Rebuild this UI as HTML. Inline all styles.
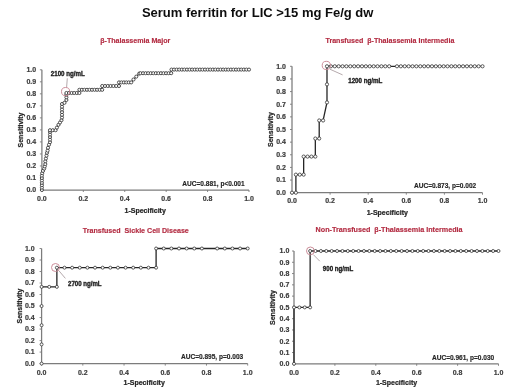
<!DOCTYPE html>
<html><head><meta charset="utf-8"><style>
html,body{margin:0;padding:0;background:#fff;}
body{width:520px;height:390px;overflow:hidden;}
svg{display:block;will-change:transform;}
text{font-family:"Liberation Sans", sans-serif;font-weight:bold;}
.tl{font-size:7px;fill:#3c3c3c;stroke:#3c3c3c;stroke-width:0.18px;}
.at{font-size:7px;fill:#262626;stroke:#262626;stroke-width:0.22px;}
.st{font-size:7px;fill:#b32c42;stroke:#b32c42;stroke-width:0.15px;}
.auc{font-size:6.55px;fill:#262626;stroke:#262626;stroke-width:0.15px;}
.lab{font-size:7.2px;fill:#1f1f1f;stroke:#1f1f1f;stroke-width:0.38px;}
.ti{font-size:13px;fill:#0d0d0d;}
</style></head><body>
<svg width="520" height="390" viewBox="0 0 520 390">
<rect width="520" height="390" fill="#fff"/>
<g>
<text x="141.9" y="16.9" class="ti">Serum ferritin for LIC &gt;15 mg Fe/g dw</text>
<path d="M41.9 69.8V190H249" fill="none" stroke="#7c7c7c" stroke-width="1.25"/>
<path d="M39.9 190H41.9M39.9 177.98H41.9M39.9 165.96H41.9M39.9 153.94H41.9M39.9 141.92H41.9M39.9 129.9H41.9M39.9 117.88H41.9M39.9 105.86H41.9M39.9 93.84H41.9M39.9 81.82H41.9M39.9 69.8H41.9M41.9 190V192M83.32 190V192M124.74 190V192M166.16 190V192M207.58 190V192M249 190V192" stroke="#7c7c7c" stroke-width="0.9"/>
<text x="36.2" y="192.3" text-anchor="end" class="tl">0.0</text>
<text x="36.2" y="180.28" text-anchor="end" class="tl">0.1</text>
<text x="36.2" y="168.26" text-anchor="end" class="tl">0.2</text>
<text x="36.2" y="156.24" text-anchor="end" class="tl">0.3</text>
<text x="36.2" y="144.22" text-anchor="end" class="tl">0.4</text>
<text x="36.2" y="132.2" text-anchor="end" class="tl">0.5</text>
<text x="36.2" y="120.18" text-anchor="end" class="tl">0.6</text>
<text x="36.2" y="108.16" text-anchor="end" class="tl">0.7</text>
<text x="36.2" y="96.14" text-anchor="end" class="tl">0.8</text>
<text x="36.2" y="84.12" text-anchor="end" class="tl">0.9</text>
<text x="36.2" y="72.1" text-anchor="end" class="tl">1.0</text>
<text x="41.9" y="201.2" text-anchor="middle" class="tl">0.0</text>
<text x="83.32" y="201.2" text-anchor="middle" class="tl">0.2</text>
<text x="124.74" y="201.2" text-anchor="middle" class="tl">0.4</text>
<text x="166.16" y="201.2" text-anchor="middle" class="tl">0.6</text>
<text x="207.58" y="201.2" text-anchor="middle" class="tl">0.8</text>
<text x="249" y="201.2" text-anchor="middle" class="tl">1.0</text>
<text x="145.2" y="212.6" text-anchor="middle" class="at">1-Specificity</text>
<text transform="translate(22.7 130) rotate(-90)" text-anchor="middle" class="at">Sensitivity</text>
<text x="135.3" y="42.8" text-anchor="middle" class="st" style="font-size:7.1px">β-Thalassemia Major</text>
<text x="244.6" y="186.2" text-anchor="end" class="auc">AUC=0.881, p&lt;0.001</text>
<path d="M41.9 190 L41.9 187.6 L41.9 185.2 L41.9 182.8 L41.9 180.4 L41.9 178 L41.9 175.6 L42.2 173.2 L43 170.9 L44.2 168.6 L44.8 166.4 L45.3 164.1 L45.3 161.3 L45.9 158.5 L46.5 155.6 L47 152.8 L47.6 150.6 L48 147.8 L49 144.7 L50 142.2 L50 139.6 L50 137 L50 134.5 L50 131.9 L50 130.2 L52.8 130.2 L55.6 130.2 L56.9 127.6 L58.5 124.8 L60 122.5 L61.5 120.2 L62 117.5 L62 114.8 L62 112.1 L62 109.4 L62 106.7 L62 104 L64.5 102.8 L66.4 100 L66.4 97.3 L66.4 94.6 L66.4 93 L79.4 93 L79.4 89.8 L102.2 89.8 L102.2 86 L119 86 L119 82.4 L131.2 82.4 L133.5 79.5 L136.3 76.6 L139.2 73.6 L140.5 73.2 L171.2 73.2 L171.2 69.6 L249 69.6" fill="none" stroke="#262626" stroke-width="1.1" stroke-linejoin="round"/>
<g fill="#fff" stroke="#333" stroke-width="0.85"><circle cx="41.9" cy="190" r="1.55"/><circle cx="41.9" cy="187.6" r="1.55"/><circle cx="41.9" cy="185.2" r="1.55"/><circle cx="41.9" cy="182.8" r="1.55"/><circle cx="41.9" cy="180.4" r="1.55"/><circle cx="41.9" cy="178" r="1.55"/><circle cx="41.9" cy="175.6" r="1.55"/><circle cx="42.2" cy="173.2" r="1.55"/><circle cx="43" cy="170.9" r="1.55"/><circle cx="44.2" cy="168.6" r="1.55"/><circle cx="44.8" cy="166.4" r="1.55"/><circle cx="45.3" cy="164.1" r="1.55"/><circle cx="45.3" cy="161.3" r="1.55"/><circle cx="45.9" cy="158.5" r="1.55"/><circle cx="46.5" cy="155.6" r="1.55"/><circle cx="47" cy="152.8" r="1.55"/><circle cx="47.6" cy="150.6" r="1.55"/><circle cx="48" cy="147.8" r="1.55"/><circle cx="49" cy="144.7" r="1.55"/><circle cx="50" cy="142.2" r="1.55"/><circle cx="50" cy="139.6" r="1.55"/><circle cx="50" cy="137" r="1.55"/><circle cx="50" cy="134.5" r="1.55"/><circle cx="50" cy="131.9" r="1.55"/><circle cx="50" cy="130.2" r="1.55"/><circle cx="52.8" cy="130.2" r="1.55"/><circle cx="55.6" cy="130.2" r="1.55"/><circle cx="56.9" cy="127.6" r="1.55"/><circle cx="58.5" cy="124.8" r="1.55"/><circle cx="60" cy="122.5" r="1.55"/><circle cx="61.5" cy="120.2" r="1.55"/><circle cx="62" cy="117.5" r="1.55"/><circle cx="62" cy="114.8" r="1.55"/><circle cx="62" cy="112.1" r="1.55"/><circle cx="62" cy="109.4" r="1.55"/><circle cx="62" cy="106.7" r="1.55"/><circle cx="62" cy="104" r="1.55"/><circle cx="64.5" cy="102.8" r="1.55"/><circle cx="66.4" cy="100" r="1.55"/><circle cx="66.4" cy="97.3" r="1.55"/><circle cx="66.4" cy="94.6" r="1.55"/><circle cx="66.4" cy="93" r="1.55"/><circle cx="69" cy="93" r="1.55"/><circle cx="71.6" cy="93" r="1.55"/><circle cx="74.2" cy="93" r="1.55"/><circle cx="76.8" cy="93" r="1.55"/><circle cx="79.4" cy="93" r="1.55"/><circle cx="79.4" cy="89.8" r="1.55"/><circle cx="81.93" cy="89.8" r="1.55"/><circle cx="84.47" cy="89.8" r="1.55"/><circle cx="87" cy="89.8" r="1.55"/><circle cx="89.53" cy="89.8" r="1.55"/><circle cx="92.07" cy="89.8" r="1.55"/><circle cx="94.6" cy="89.8" r="1.55"/><circle cx="97.13" cy="89.8" r="1.55"/><circle cx="99.67" cy="89.8" r="1.55"/><circle cx="102.2" cy="89.8" r="1.55"/><circle cx="102.2" cy="86" r="1.55"/><circle cx="105" cy="86" r="1.55"/><circle cx="107.8" cy="86" r="1.55"/><circle cx="110.6" cy="86" r="1.55"/><circle cx="113.4" cy="86" r="1.55"/><circle cx="116.2" cy="86" r="1.55"/><circle cx="119" cy="86" r="1.55"/><circle cx="119" cy="82.4" r="1.55"/><circle cx="121.44" cy="82.4" r="1.55"/><circle cx="123.88" cy="82.4" r="1.55"/><circle cx="126.32" cy="82.4" r="1.55"/><circle cx="128.76" cy="82.4" r="1.55"/><circle cx="131.2" cy="82.4" r="1.55"/><circle cx="133.5" cy="79.5" r="1.55"/><circle cx="136.3" cy="76.6" r="1.55"/><circle cx="139.2" cy="73.6" r="1.55"/><circle cx="140.5" cy="73.2" r="1.55"/><circle cx="143.06" cy="73.2" r="1.55"/><circle cx="145.62" cy="73.2" r="1.55"/><circle cx="148.18" cy="73.2" r="1.55"/><circle cx="150.73" cy="73.2" r="1.55"/><circle cx="153.29" cy="73.2" r="1.55"/><circle cx="155.85" cy="73.2" r="1.55"/><circle cx="158.41" cy="73.2" r="1.55"/><circle cx="160.97" cy="73.2" r="1.55"/><circle cx="163.52" cy="73.2" r="1.55"/><circle cx="166.08" cy="73.2" r="1.55"/><circle cx="168.64" cy="73.2" r="1.55"/><circle cx="171.2" cy="73.2" r="1.55"/><circle cx="171.5" cy="69.6" r="1.55"/><circle cx="174.08" cy="69.6" r="1.55"/><circle cx="176.67" cy="69.6" r="1.55"/><circle cx="179.25" cy="69.6" r="1.55"/><circle cx="181.83" cy="69.6" r="1.55"/><circle cx="184.42" cy="69.6" r="1.55"/><circle cx="187" cy="69.6" r="1.55"/><circle cx="189.58" cy="69.6" r="1.55"/><circle cx="192.17" cy="69.6" r="1.55"/><circle cx="194.75" cy="69.6" r="1.55"/><circle cx="197.33" cy="69.6" r="1.55"/><circle cx="199.92" cy="69.6" r="1.55"/><circle cx="202.5" cy="69.6" r="1.55"/><circle cx="205.08" cy="69.6" r="1.55"/><circle cx="207.67" cy="69.6" r="1.55"/><circle cx="210.25" cy="69.6" r="1.55"/><circle cx="212.83" cy="69.6" r="1.55"/><circle cx="215.42" cy="69.6" r="1.55"/><circle cx="218" cy="69.6" r="1.55"/><circle cx="220.58" cy="69.6" r="1.55"/><circle cx="223.17" cy="69.6" r="1.55"/><circle cx="225.75" cy="69.6" r="1.55"/><circle cx="228.33" cy="69.6" r="1.55"/><circle cx="230.92" cy="69.6" r="1.55"/><circle cx="233.5" cy="69.6" r="1.55"/><circle cx="236.08" cy="69.6" r="1.55"/><circle cx="238.67" cy="69.6" r="1.55"/><circle cx="241.25" cy="69.6" r="1.55"/><circle cx="243.83" cy="69.6" r="1.55"/><circle cx="246.42" cy="69.6" r="1.55"/><circle cx="249" cy="69.6" r="1.55"/></g>
<path d="M67.3 78.3L66.6 87.4" stroke="#a89a9d" stroke-width="0.85"/>
<circle cx="65.6" cy="91.6" r="4.1" fill="none" stroke="#c98895" stroke-width="0.95"/>
<text x="50.8" y="75.6" class="lab" textLength="34" lengthAdjust="spacingAndGlyphs">2100 ng/mL</text>
<path d="M292 66.3V192.7H482.5" fill="none" stroke="#7c7c7c" stroke-width="1.25"/>
<path d="M290 192.7H292M290 180.06H292M290 167.42H292M290 154.78H292M290 142.14H292M290 129.5H292M290 116.86H292M290 104.22H292M290 91.58H292M290 78.94H292M290 66.3H292M292 192.7V194.7M330.1 192.7V194.7M368.2 192.7V194.7M406.3 192.7V194.7M444.4 192.7V194.7M482.5 192.7V194.7" stroke="#7c7c7c" stroke-width="0.9"/>
<text x="285.9" y="195" text-anchor="end" class="tl">0.0</text>
<text x="285.9" y="182.36" text-anchor="end" class="tl">0.1</text>
<text x="285.9" y="169.72" text-anchor="end" class="tl">0.2</text>
<text x="285.9" y="157.08" text-anchor="end" class="tl">0.3</text>
<text x="285.9" y="144.44" text-anchor="end" class="tl">0.4</text>
<text x="285.9" y="131.8" text-anchor="end" class="tl">0.5</text>
<text x="285.9" y="119.16" text-anchor="end" class="tl">0.6</text>
<text x="285.9" y="106.52" text-anchor="end" class="tl">0.7</text>
<text x="285.9" y="93.88" text-anchor="end" class="tl">0.8</text>
<text x="285.9" y="81.24" text-anchor="end" class="tl">0.9</text>
<text x="285.9" y="68.6" text-anchor="end" class="tl">1.0</text>
<text x="292" y="203.4" text-anchor="middle" class="tl">0.0</text>
<text x="330.1" y="203.4" text-anchor="middle" class="tl">0.2</text>
<text x="368.2" y="203.4" text-anchor="middle" class="tl">0.4</text>
<text x="406.3" y="203.4" text-anchor="middle" class="tl">0.6</text>
<text x="444.4" y="203.4" text-anchor="middle" class="tl">0.8</text>
<text x="482.5" y="203.4" text-anchor="middle" class="tl">1.0</text>
<text x="387.3" y="214.8" text-anchor="middle" class="at">1-Specificity</text>
<text transform="translate(272.8 129.5) rotate(-90)" text-anchor="middle" class="at">Sensitivity</text>
<text x="389.9" y="42.8" text-anchor="middle" class="st" style="font-size:7.1px">Transfused&#160;&#160;β-Thalassemia Intermedia</text>
<text x="476.2" y="188.3" text-anchor="end" class="auc">AUC=0.873, p=0.002</text>
<path d="M292 192.7 L295.89 192.7 L295.89 174.64 L299.78 174.64 L303.66 174.64 L303.66 156.59 L307.55 156.59 L311.44 156.59 L315.33 156.59 L315.33 138.53 L319.21 138.53 L319.21 120.47 L323.1 120.47 L326.99 102.41 L326.99 84.36 L326.99 66.3 L482.5 66.3" fill="none" stroke="#262626" stroke-width="1.3" stroke-linejoin="round"/>
<g fill="#fff" stroke="#333" stroke-width="0.8"><circle cx="292" cy="192.7" r="1.6"/><circle cx="295.89" cy="192.7" r="1.6"/><circle cx="295.89" cy="174.64" r="1.6"/><circle cx="299.78" cy="174.64" r="1.6"/><circle cx="303.66" cy="174.64" r="1.6"/><circle cx="303.66" cy="156.59" r="1.6"/><circle cx="307.55" cy="156.59" r="1.6"/><circle cx="311.44" cy="156.59" r="1.6"/><circle cx="315.33" cy="156.59" r="1.6"/><circle cx="315.33" cy="138.53" r="1.6"/><circle cx="319.21" cy="138.53" r="1.6"/><circle cx="319.21" cy="120.47" r="1.6"/><circle cx="323.1" cy="120.47" r="1.6"/><circle cx="326.99" cy="102.41" r="1.6"/><circle cx="326.99" cy="84.36" r="1.6"/><circle cx="326.99" cy="66.3" r="1.6"/><circle cx="330.88" cy="66.3" r="1.6"/><circle cx="334.77" cy="66.3" r="1.6"/><circle cx="338.65" cy="66.3" r="1.6"/><circle cx="342.54" cy="66.3" r="1.6"/><circle cx="346.43" cy="66.3" r="1.6"/><circle cx="350.32" cy="66.3" r="1.6"/><circle cx="354.2" cy="66.3" r="1.6"/><circle cx="358.09" cy="66.3" r="1.6"/><circle cx="361.98" cy="66.3" r="1.6"/><circle cx="365.87" cy="66.3" r="1.6"/><circle cx="369.76" cy="66.3" r="1.6"/><circle cx="373.64" cy="66.3" r="1.6"/><circle cx="377.53" cy="66.3" r="1.6"/><circle cx="381.42" cy="66.3" r="1.6"/><circle cx="385.31" cy="66.3" r="1.6"/><circle cx="389.19" cy="66.3" r="1.6"/><circle cx="396.97" cy="66.3" r="1.6"/><circle cx="400.86" cy="66.3" r="1.6"/><circle cx="404.74" cy="66.3" r="1.6"/><circle cx="408.63" cy="66.3" r="1.6"/><circle cx="412.52" cy="66.3" r="1.6"/><circle cx="416.41" cy="66.3" r="1.6"/><circle cx="420.3" cy="66.3" r="1.6"/><circle cx="424.18" cy="66.3" r="1.6"/><circle cx="428.07" cy="66.3" r="1.6"/><circle cx="431.96" cy="66.3" r="1.6"/><circle cx="435.85" cy="66.3" r="1.6"/><circle cx="439.73" cy="66.3" r="1.6"/><circle cx="443.62" cy="66.3" r="1.6"/><circle cx="447.51" cy="66.3" r="1.6"/><circle cx="451.4" cy="66.3" r="1.6"/><circle cx="455.29" cy="66.3" r="1.6"/><circle cx="459.17" cy="66.3" r="1.6"/><circle cx="463.06" cy="66.3" r="1.6"/><circle cx="466.95" cy="66.3" r="1.6"/><circle cx="470.84" cy="66.3" r="1.6"/><circle cx="474.72" cy="66.3" r="1.6"/><circle cx="478.61" cy="66.3" r="1.6"/><circle cx="482.5" cy="66.3" r="1.6"/></g>
<path d="M329.7 69.1L342.6 74.9" stroke="#a89a9d" stroke-width="0.85"/>
<circle cx="326.3" cy="65.4" r="4.1" fill="none" stroke="#c98895" stroke-width="0.95"/>
<text x="348.2" y="83.4" class="lab" textLength="34.2" lengthAdjust="spacingAndGlyphs">1200 ng/mL</text>
<path d="M41.6 248.5V363.6H247.7" fill="none" stroke="#7c7c7c" stroke-width="1.25"/>
<path d="M39.6 363.6H41.6M39.6 352.09H41.6M39.6 340.58H41.6M39.6 329.07H41.6M39.6 317.56H41.6M39.6 306.05H41.6M39.6 294.54H41.6M39.6 283.03H41.6M39.6 271.52H41.6M39.6 260.01H41.6M39.6 248.5H41.6M41.6 363.6V365.6M82.82 363.6V365.6M124.04 363.6V365.6M165.26 363.6V365.6M206.48 363.6V365.6M247.7 363.6V365.6" stroke="#7c7c7c" stroke-width="0.9"/>
<text x="34.7" y="365.9" text-anchor="end" class="tl">0.0</text>
<text x="34.7" y="354.39" text-anchor="end" class="tl">0.1</text>
<text x="34.7" y="342.88" text-anchor="end" class="tl">0.2</text>
<text x="34.7" y="331.37" text-anchor="end" class="tl">0.3</text>
<text x="34.7" y="319.86" text-anchor="end" class="tl">0.4</text>
<text x="34.7" y="308.35" text-anchor="end" class="tl">0.5</text>
<text x="34.7" y="296.84" text-anchor="end" class="tl">0.6</text>
<text x="34.7" y="285.33" text-anchor="end" class="tl">0.7</text>
<text x="34.7" y="273.82" text-anchor="end" class="tl">0.8</text>
<text x="34.7" y="262.31" text-anchor="end" class="tl">0.9</text>
<text x="34.7" y="250.8" text-anchor="end" class="tl">1.0</text>
<text x="41.6" y="374.8" text-anchor="middle" class="tl">0.0</text>
<text x="82.82" y="374.8" text-anchor="middle" class="tl">0.2</text>
<text x="124.04" y="374.8" text-anchor="middle" class="tl">0.4</text>
<text x="165.26" y="374.8" text-anchor="middle" class="tl">0.6</text>
<text x="206.48" y="374.8" text-anchor="middle" class="tl">0.8</text>
<text x="247.7" y="374.8" text-anchor="middle" class="tl">1.0</text>
<text x="144.2" y="385" text-anchor="middle" class="at">1-Specificity</text>
<text transform="translate(21.8 306) rotate(-90)" text-anchor="middle" class="at">Sensitivity</text>
<text x="135.8" y="232.6" text-anchor="middle" class="st" style="font-size:7.1px">Transfused&#160;&#160;Sickle Cell Disease</text>
<text x="243.2" y="359.2" text-anchor="end" class="auc">AUC=0.895, p=0.003</text>
<path d="M41.6 286.87 L49.23 286.87 L56.87 286.87 L56.87 267.68 L156.1 267.68 L156.1 248.5 L247.7 248.5" fill="none" stroke="#262626" stroke-width="1.3" stroke-linejoin="round"/>
<g fill="#fff" stroke="#333" stroke-width="0.8"><circle cx="41.6" cy="363.6" r="1.5"/><circle cx="41.6" cy="344.42" r="1.5"/><circle cx="41.6" cy="325.23" r="1.5"/><circle cx="41.6" cy="306.05" r="1.5"/><circle cx="41.6" cy="286.87" r="1.5"/><circle cx="49.23" cy="286.87" r="1.5"/><circle cx="56.87" cy="286.87" r="1.5"/><circle cx="56.87" cy="267.68" r="1.5"/><circle cx="64.5" cy="267.68" r="1.5"/><circle cx="72.13" cy="267.68" r="1.5"/><circle cx="79.77" cy="267.68" r="1.5"/><circle cx="87.4" cy="267.68" r="1.5"/><circle cx="95.03" cy="267.68" r="1.5"/><circle cx="102.67" cy="267.68" r="1.5"/><circle cx="110.3" cy="267.68" r="1.5"/><circle cx="117.93" cy="267.68" r="1.5"/><circle cx="125.57" cy="267.68" r="1.5"/><circle cx="133.2" cy="267.68" r="1.5"/><circle cx="140.83" cy="267.68" r="1.5"/><circle cx="148.47" cy="267.68" r="1.5"/><circle cx="156.1" cy="267.68" r="1.5"/><circle cx="156.1" cy="248.5" r="1.5"/><circle cx="163.73" cy="248.5" r="1.5"/><circle cx="171.37" cy="248.5" r="1.5"/><circle cx="179" cy="248.5" r="1.5"/><circle cx="186.63" cy="248.5" r="1.5"/><circle cx="194.27" cy="248.5" r="1.5"/><circle cx="201.9" cy="248.5" r="1.5"/><circle cx="217.17" cy="248.5" r="1.5"/><circle cx="224.8" cy="248.5" r="1.5"/><circle cx="232.43" cy="248.5" r="1.5"/><circle cx="240.07" cy="248.5" r="1.5"/><circle cx="247.7" cy="248.5" r="1.5"/></g>
<path d="M58.8 270.6L65.4 278.4" stroke="#a89a9d" stroke-width="0.85"/>
<circle cx="55.5" cy="267.5" r="4.0" fill="none" stroke="#c98895" stroke-width="0.95"/>
<text x="68" y="286.2" class="lab" textLength="33.6" lengthAdjust="spacingAndGlyphs">2700 ng/mL</text>
<path d="M294 251V363.8H498.5" fill="none" stroke="#7c7c7c" stroke-width="1.25"/>
<path d="M292 363.8H294M292 352.52H294M292 341.24H294M292 329.96H294M292 318.68H294M292 307.4H294M292 296.12H294M292 284.84H294M292 273.56H294M292 262.28H294M292 251H294M294 363.8V365.8M334.9 363.8V365.8M375.8 363.8V365.8M416.7 363.8V365.8M457.6 363.8V365.8M498.5 363.8V365.8" stroke="#7c7c7c" stroke-width="0.9"/>
<text x="289.3" y="366.1" text-anchor="end" class="tl">0.0</text>
<text x="289.3" y="354.82" text-anchor="end" class="tl">0.1</text>
<text x="289.3" y="343.54" text-anchor="end" class="tl">0.2</text>
<text x="289.3" y="332.26" text-anchor="end" class="tl">0.3</text>
<text x="289.3" y="320.98" text-anchor="end" class="tl">0.4</text>
<text x="289.3" y="309.7" text-anchor="end" class="tl">0.5</text>
<text x="289.3" y="298.42" text-anchor="end" class="tl">0.6</text>
<text x="289.3" y="287.14" text-anchor="end" class="tl">0.7</text>
<text x="289.3" y="275.86" text-anchor="end" class="tl">0.8</text>
<text x="289.3" y="264.58" text-anchor="end" class="tl">0.9</text>
<text x="289.3" y="253.3" text-anchor="end" class="tl">1.0</text>
<text x="294" y="375" text-anchor="middle" class="tl">0.0</text>
<text x="334.9" y="375" text-anchor="middle" class="tl">0.2</text>
<text x="375.8" y="375" text-anchor="middle" class="tl">0.4</text>
<text x="416.7" y="375" text-anchor="middle" class="tl">0.6</text>
<text x="457.6" y="375" text-anchor="middle" class="tl">0.8</text>
<text x="498.5" y="375" text-anchor="middle" class="tl">1.0</text>
<text x="396.5" y="385" text-anchor="middle" class="at">1-Specificity</text>
<text transform="translate(275 307.5) rotate(-90)" text-anchor="middle" class="at">Sensitivity</text>
<text x="389.1" y="232.2" text-anchor="middle" class="st" style="font-size:7.2px">Non-Transfused&#160;&#160;β-Thalassemia Intermedia</text>
<text x="494.2" y="359.8" text-anchor="end" class="auc">AUC=0.961, p=0.030</text>
<path d="M294 363.8 L294 307.4 L299.38 307.4 L304.76 307.4 L310.14 307.4 L310.14 251 L498.5 251" fill="none" stroke="#262626" stroke-width="1.3" stroke-linejoin="round"/>
<g fill="#fff" stroke="#333" stroke-width="0.8"><circle cx="294" cy="363.8" r="1.5"/><circle cx="294" cy="307.4" r="1.5"/><circle cx="299.38" cy="307.4" r="1.5"/><circle cx="304.76" cy="307.4" r="1.5"/><circle cx="310.14" cy="307.4" r="1.5"/><circle cx="310.14" cy="251" r="1.5"/><circle cx="315.53" cy="251" r="1.5"/><circle cx="320.91" cy="251" r="1.5"/><circle cx="326.29" cy="251" r="1.5"/><circle cx="331.67" cy="251" r="1.5"/><circle cx="337.05" cy="251" r="1.5"/><circle cx="342.43" cy="251" r="1.5"/><circle cx="347.82" cy="251" r="1.5"/><circle cx="353.2" cy="251" r="1.5"/><circle cx="358.58" cy="251" r="1.5"/><circle cx="363.96" cy="251" r="1.5"/><circle cx="369.34" cy="251" r="1.5"/><circle cx="374.72" cy="251" r="1.5"/><circle cx="380.11" cy="251" r="1.5"/><circle cx="385.49" cy="251" r="1.5"/><circle cx="390.87" cy="251" r="1.5"/><circle cx="396.25" cy="251" r="1.5"/><circle cx="401.63" cy="251" r="1.5"/><circle cx="407.01" cy="251" r="1.5"/><circle cx="412.39" cy="251" r="1.5"/><circle cx="417.78" cy="251" r="1.5"/><circle cx="423.16" cy="251" r="1.5"/><circle cx="428.54" cy="251" r="1.5"/><circle cx="433.92" cy="251" r="1.5"/><circle cx="439.3" cy="251" r="1.5"/><circle cx="444.68" cy="251" r="1.5"/><circle cx="450.07" cy="251" r="1.5"/><circle cx="455.45" cy="251" r="1.5"/><circle cx="460.83" cy="251" r="1.5"/><circle cx="466.21" cy="251" r="1.5"/><circle cx="471.59" cy="251" r="1.5"/><circle cx="476.97" cy="251" r="1.5"/><circle cx="482.36" cy="251" r="1.5"/><circle cx="487.74" cy="251" r="1.5"/><circle cx="493.12" cy="251" r="1.5"/><circle cx="498.5" cy="251" r="1.5"/></g>
<path d="M313.3 254.6L319.8 261.2" stroke="#a89a9d" stroke-width="0.85"/>
<circle cx="310.4" cy="250.9" r="3.9" fill="none" stroke="#c98895" stroke-width="0.95"/>
<text x="322.8" y="271.3" class="lab" textLength="30.4" lengthAdjust="spacingAndGlyphs">900 ng/mL</text>
</g>
</svg>
</body></html>
